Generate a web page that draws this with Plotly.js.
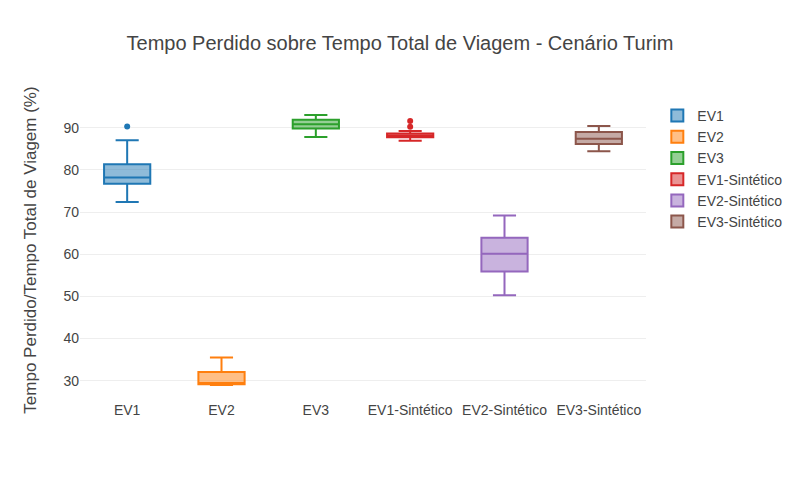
<!DOCTYPE html>
<html>
<head>
<meta charset="utf-8">
<script src="https://cdn.plot.ly/plotly-3.0.1.min.js"></script>
<style>html,body{margin:0;padding:0;background:#fff;}#chart{width:800px;height:480px;}</style>
</head>
<body>
<div id="chart"></div>
<script>
const categories = ["EV1", "EV2", "EV3", "EV1-Sintético", "EV2-Sintético", "EV3-Sintético"];
const lowerFence = [72.4, 29.0, 87.8, 86.9, 50.3, 84.4];
const q1Values   = [76.7, 29.2, 89.8, 87.7, 55.9, 86.1];
const medians    = [78.2, 29.5, 90.8, 88.1, 60.1, 87.4];
const q3Values   = [81.3, 32.1, 91.9, 88.6, 63.9, 89.0];
const upperFence = [87.0, 35.5, 93.0, 89.2, 69.2, 90.4];
const outliers   = [[90.3], [], [], [90.2, 91.6], [], []];
const colors = ["#1f77b4", "#ff7f0e", "#2ca02c", "#d62728", "#9467bd", "#8c564b"];

const traces = [];
categories.forEach((c, i) => {
  traces.push({
    type: "box",
    name: c,
    x: [c],
    q1: [q1Values[i]],
    median: [medians[i]],
    q3: [q3Values[i]],
    lowerfence: [lowerFence[i]],
    upperfence: [upperFence[i]],
    marker: {color: colors[i]},
    line: {color: colors[i], width: 2},
    boxpoints: false
  });
});
categories.forEach((c, i) => {
  if (outliers[i].length) {
    traces.push({
      type: "scatter",
      mode: "markers",
      x: outliers[i].map(() => c),
      y: outliers[i],
      marker: {color: colors[i], size: 6},
      showlegend: false,
      hoverinfo: "y"
    });
  }
});

const layout = {
  width: 800, height: 480,
  font: {family: "Arial, 'Liberation Sans', sans-serif", color: "#444", size: 14},
  title: {text: "Tempo Perdido sobre Tempo Total de Viagem - Cenário Turim", font: {size: 20, color: "#444"}, x: 0.5, y: 0.91, yanchor: "middle"},
  margin: {l: 80, r: 154, t: 100, b: 80},
  boxmode: "overlay",
  xaxis: {type: "category", showgrid: false, zeroline: false, tickfont: {size: 14}},
  yaxis: {
    title: {text: "Tempo Perdido/Tempo Total de Viagem (%)", font: {size: 17}},
    gridcolor: "#eee", zeroline: false, dtick: 10, tickfont: {size: 14}
  },
  legend: {font: {size: 14}, x: 1.02, y: 1},
  paper_bgcolor: "#fff", plot_bgcolor: "#fff"
};
Plotly.newPlot("chart", traces, layout, {displayModeBar: false});
</script>
</body>
</html>
